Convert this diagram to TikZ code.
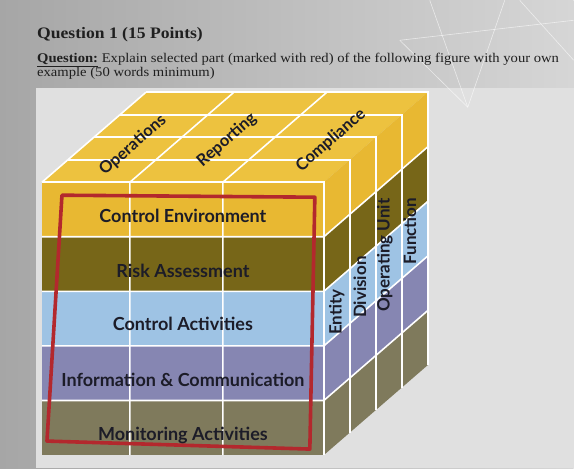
\documentclass[tikz,border=0pt]{standalone}
\usepackage{fontspec}
\setmainfont{Liberation Serif}
\newfontfamily\qfont[FakeStretch=1.1]{Liberation Serif}
\newfontfamily\cubefont{Lato}
\usetikzlibrary{calc}

\definecolor{bgdark}{HTML}{A6A6A6}
\definecolor{bglight}{HTML}{D6D6D6}
\definecolor{panel}{HTML}{E0E0E0}
\definecolor{cyel}{HTML}{E8B832}
\definecolor{ctop}{HTML}{EDC23F}
\definecolor{colive}{HTML}{776618}
\definecolor{cblue}{HTML}{9EC3E4}
\definecolor{cpurple}{HTML}{8686B2}
\definecolor{cgrey}{HTML}{7F7A5C}
\definecolor{redbox}{HTML}{B3282D}
\definecolor{ink}{HTML}{1C1C28}

\begin{document}
\begin{tikzpicture}[x=1pt,y=-1pt,
  grid line/.style={white, line width=1.6pt},
  front label/.style={text=ink, font=\cubefont\bfseries\fontsize{18}{20}\selectfont},
  top label/.style={text=ink, rotate=41, font=\cubefont\bfseries\fontsize{16.5}{18}\selectfont},
  side label/.style={text=ink, rotate=90, font=\cubefont\bfseries\fontsize{17}{19}\selectfont},
  question/.style={anchor=west, text=black!88, inner sep=0pt}]

% background of the photo
\shade[left color=bgdark, right color=bglight] (0,0) rectangle (574,468);
\fill[panel] (36,88) rectangle (574,468);
\begin{scope}[white, opacity=0.6, line width=0.6pt]
\draw (468,107) -- (430,0);
\draw (468,107) -- (505,0);
\draw (468,107) -- (400,40);
\draw (400,40) -- (574,20);
\draw (520,0) -- (574,60);
\end{scope}

% question text
\node[question, font=\qfont\bfseries\fontsize{16}{18}\selectfont] (title) at (37,34) {Question 1 (15 Points)};
\node[question, font=\qfont\fontsize{13.3}{15}\selectfont] (line1) at (37,59.5)
  {\textbf{\underline{Question:}} Explain selected part (marked with red) of the following figure with your own};
\node[question, font=\qfont\fontsize{13.3}{15}\selectfont] (line2) at (37,73.5) {example (50 words minimum)};

% cube corners
\coordinate (fl) at (42,182);
\coordinate (fr) at (324,182);
\coordinate (d) at (104,-90);
\coordinate (bl) at ($(fl)+(d)$);
\coordinate (br) at ($(fr)+(d)$);

% top face
\fill[ctop] (fl) -- (fr) -- (br) -- (bl) -- cycle;

% front and side bands
\foreach \c [count=\i from 0] in {cyel,colive,cblue,cpurple,cgrey} {
  \pgfmathsetmacro\ya{182+54.6*\i}
  \pgfmathsetmacro\yb{182+54.6*(\i+1)}
  \fill[\c] (42,\ya) rectangle (324,\yb);
  \fill[\c] (324,\ya) -- ++(d) -- ++(0,54.6) -- (324,\yb) -- cycle;
}

% white grid
\foreach \i in {1,...,4} {
  \pgfmathsetmacro\y{182+54.6*\i}
  \draw[grid line] (42,\y) -- (324,\y) -- ++(d);
}
\foreach \x in {130,223}
  \draw[grid line] (\x,455) -- (\x,182) -- ++(d);
\foreach \k in {0,...,4} {
  \pgfmathsetmacro\dx{26*\k}
  \pgfmathsetmacro\dy{-22.5*\k}
  \draw[grid line] (42+\dx,182+\dy) -- (324+\dx,182+\dy) -- (324+\dx,455+\dy);
}
\draw[grid line] (fl) -- (bl);

% red selection
\draw[redbox, line width=3.6pt, line join=round] (62,195) -- (315,197) -- (310,449) -- (47,441) -- cycle;

% components
\node[front label] (ce) at (183,216) {Control Environment};
\node[front label] (ra) at (183,271) {Risk Assessment};
\node[front label] (ca) at (183,324) {Control Activities};
\node[front label] (ic) at (183,380) {Information \& Communication};
\node[front label] (ma) at (183,435) {Monitoring Activities};

% objectives
\node[top label] (ops) at (133,145) {Operations};
\node[top label] (rep) at (227,140) {Reporting};
\node[top label] (comp) at (331,140) {Compliance};

% structure
\node[side label] (ent) at (337,312) {Entity};
\node[side label] (div) at (360,287) {Division};
\node[side label] (opu) at (385,255) {Operating Unit};
\node[side label] (fun) at (410,231) {Function};

\end{tikzpicture}
\end{document}
